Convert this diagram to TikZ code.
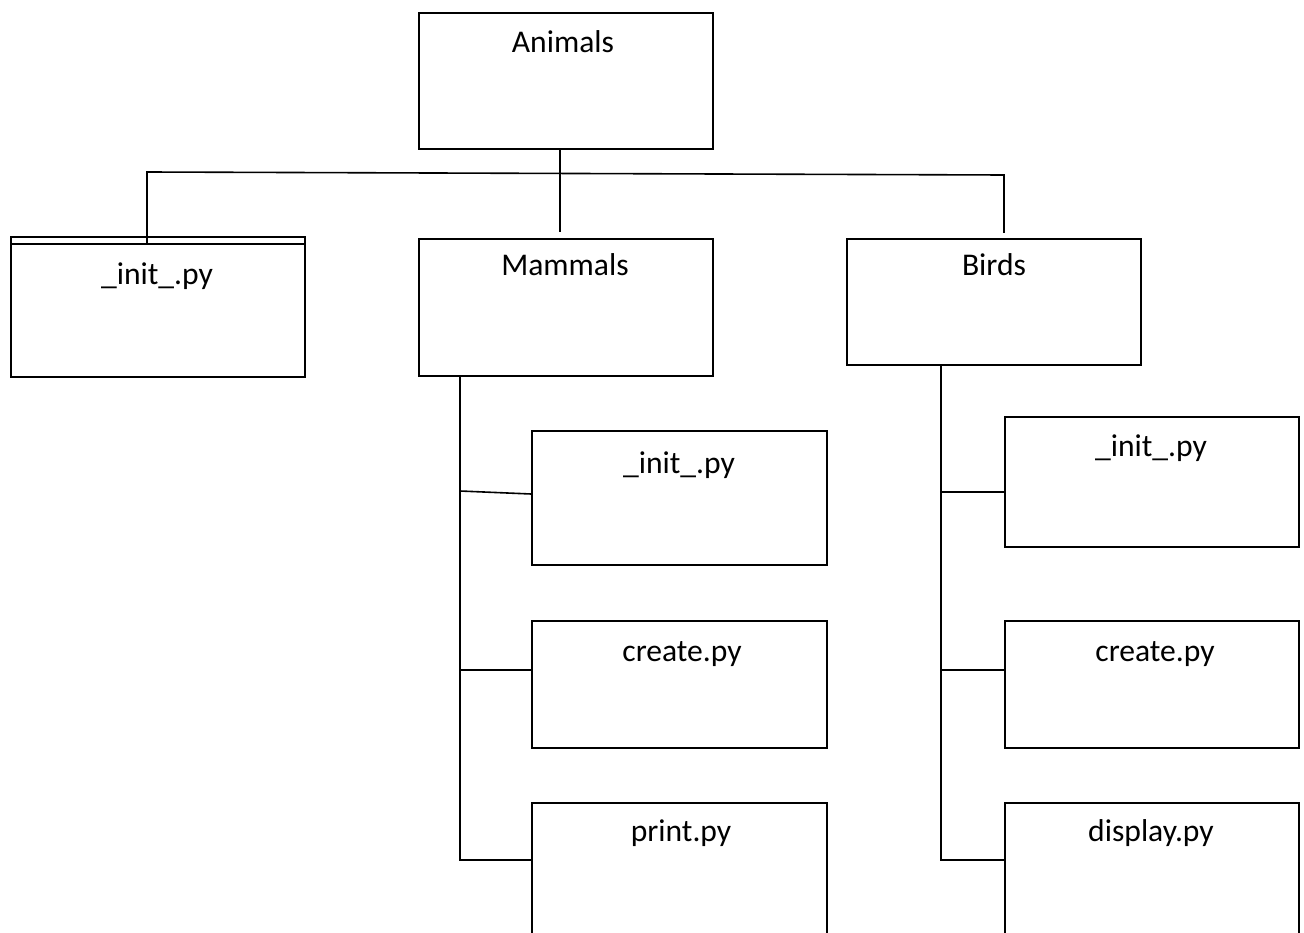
\documentclass[tikz,border=0pt]{standalone}
\usepackage{fontspec}
\setmainfont{Carlito}
\begin{document}
\begin{tikzpicture}[x=1pt,y=-1pt,
  box/.style={draw,line width=1.6pt,inner sep=0pt,anchor=north west,minimum width=294pt},
  lbl/.style={anchor=base,inner sep=0pt,font=\fontsize{31.6}{38}\selectfont},
  conn/.style={line width=1.6pt}]
\useasboundingbox (0,0) rectangle (1304,933);
% boxes
\node[box,minimum height=136pt] (anim) at (418,12) {};
\node[box,minimum height=140pt] (initL) at (10,236) {};
\node[box,minimum height=137pt] (mam) at (418,238) {};
\node[box,minimum height=126pt] (bird) at (846,238) {};
\node[box,minimum width=295pt,minimum height=134pt] (mi) at (531,430) {};
\node[box,minimum width=295pt,minimum height=127pt] (mc) at (531,620) {};
\node[box,minimum width=295pt,minimum height=200pt] (mp) at (531,802) {};
\node[box,minimum height=130pt] (bi) at (1004,416) {};
\node[box,minimum height=127pt] (bc) at (1004,620) {};
\node[box,minimum height=200pt] (bd) at (1004,802) {};
% labels
\node[lbl] (tanim) at (563,53) {Animals};
\node[lbl] (tinitL) at (157,285) {\_init\_.py};
\node[lbl] (tmam) at (565,276) {Mammals};
\node[lbl] (tbird) at (994,276) {Birds};
\node[lbl] (tmi) at (679,473) {\_init\_.py};
\node[lbl] (tmc) at (682,661) {create.py};
\node[lbl] (tmp) at (681,841) {print.py};
\node[lbl] (tbi) at (1151,456) {\_init\_.py};
\node[lbl] (tbc) at (1155,661) {create.py};
\node[lbl] (tbd) at (1151,841) {display.py};
% second top line of the left box
\draw[conn] (initL.north west |- 0,244) coordinate (dl) -- (initL.north east |- dl);
% coordinates
\coordinate (j1) at (560,232);
\coordinate (hl) at (147,172);
\coordinate (hr) at (1004,175);
\coordinate (ll) at (147,244);
\coordinate (br) at (1004,233);
\coordinate (mt) at (460,860);
\coordinate (m1) at (460,491);
\coordinate (m1e) at (531,494);
\coordinate (m2) at (460,670);
\coordinate (bt) at (941,860);
\coordinate (b1) at (941,492);
\coordinate (b2) at (941,670);
% connectors
\draw[conn] (anim.south -| j1) -- (j1);
\draw[conn] (ll) -- (hl) -- (hr) -- (br);
\draw[conn] (mam.south -| mt) -- (mt) -- (mp.west |- mt);
\draw[conn] (m1) -- (m1e);
\draw[conn] (m2) -- (mc.west |- m2);
\draw[conn] (bird.south -| bt) -- (bt) -- (bd.west |- bt);
\draw[conn] (b1) -- (bi.west |- b1);
\draw[conn] (b2) -- (bc.west |- b2);
\end{tikzpicture}
\end{document}
